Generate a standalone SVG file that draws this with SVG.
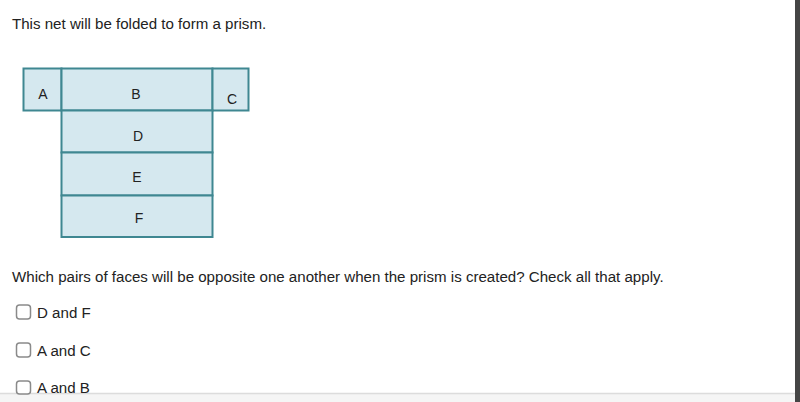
<svg xmlns="http://www.w3.org/2000/svg" width="800" height="402" viewBox="0 0 800 402">
<style>
text{font-family:"Liberation Sans",Arial,sans-serif;fill:#222}
.q{font-size:15.1px}
.f{font-size:14px;text-anchor:middle}
.face{fill:#d5e8ef;stroke:#3f8791;stroke-width:2}
.cb{fill:#fff;stroke:#8a8a8a;stroke-width:1.5}
</style>
<rect width="800" height="402" fill="#fff"/>
<rect x="0" y="394" width="795" height="8" fill="#f5f5f5"/>
<line x1="0" y1="393.5" x2="795" y2="393.5" stroke="#dcdcdc" stroke-width="1.5"/>
<text class="q" x="12" y="29">This net will be folded to form a prism.</text>
<g id="net">
<g id="faceA"><rect class="face" x="23.5" y="68.5" width="38" height="42"/><text class="f" x="43" y="98.5">A</text></g>
<g id="faceB"><rect class="face" x="61.5" y="68.5" width="151" height="42"/><text class="f" x="136" y="99">B</text></g>
<g id="faceC"><rect class="face" x="212.5" y="68.5" width="36" height="42"/><text class="f" x="232" y="103.5">C</text></g>
<g id="faceD"><rect class="face" x="61.5" y="110.5" width="151" height="42"/><text class="f" x="138" y="141">D</text></g>
<g id="faceE"><rect class="face" x="61.5" y="152.5" width="151" height="43"/><text class="f" x="137" y="182">E</text></g>
<g id="faceF"><rect class="face" x="61.5" y="195.5" width="151" height="41.5"/><text class="f" x="139" y="223">F</text></g>
</g>
<text class="q" x="12" y="282">Which pairs of faces will be opposite one another when the prism is created? Check all that apply.</text>
<g id="opt1"><rect class="cb" x="16.5" y="305" width="14" height="14" rx="3"/><text class="q" x="37" y="318">D and F</text></g>
<g id="opt2"><rect class="cb" x="16.5" y="343" width="14" height="14" rx="3"/><text class="q" x="37" y="356">A and C</text></g>
<g id="opt3"><rect class="cb" x="16.5" y="381" width="14" height="13" rx="3"/><text class="q" x="37" y="393">A and B</text></g>
<rect x="795" y="0" width="5" height="402" fill="#454545"/>
</svg>
